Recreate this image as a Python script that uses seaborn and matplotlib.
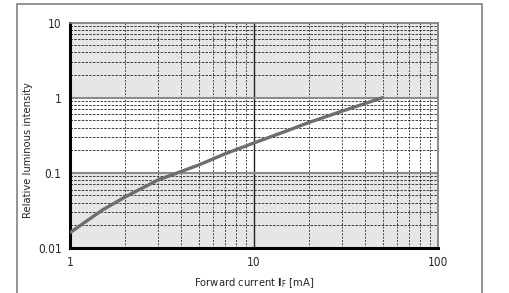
import numpy as np
import pandas as pd
import matplotlib
matplotlib.use("Agg")
import matplotlib.pyplot as plt
import seaborn as sns
from matplotlib.patches import Rectangle
from matplotlib.ticker import FixedLocator, NullFormatter

# forward current [mA] vs relative luminous intensity
current_ma = [1, 1.5, 2, 3, 5, 7, 10, 15, 20, 30, 50]
rel_intensity = [0.016, 0.032, 0.048, 0.080, 0.127, 0.18, 0.25, 0.36, 0.47, 0.66, 1.0]
x_ticks = [1, 10, 100]
x_ticklabels = ["1", "10", "100"]
y_ticks = [0.01, 0.1, 1, 10]
y_ticklabels = ["0.01", "0.1", "1", "10"]

sns.set_style("white")
plt.rcParams['font.family'] = ['DejaVu Sans']
plt.rcParams['font.stretch'] = 'condensed'

df = pd.DataFrame({"IF": current_ma, "IV": rel_intensity})

W, H = 510, 293
fig = plt.figure(figsize=(W / 100, H / 100), dpi=100)
ax = fig.add_axes([70 / W, 1 - 248 / H, (438 - 70) / W, (248 - 22.5) / H])

ax.set_xscale("log")
ax.set_yscale("log")
ax.set_xlim(1, 100)
ax.set_ylim(0.01, 10)

# shaded decades
ax.axhspan(0.01, 0.1, color="#e6e6e8", zorder=0, lw=0)
ax.axhspan(1, 10, color="#e6e6e8", zorder=0, lw=0)

# dashed minor grid
minors_x = [m * d for d in (1, 10) for m in range(2, 10)]
minors_y = [m * d for d in (0.01, 0.1, 1) for m in range(2, 10)]
for xv in minors_x:
    ax.axvline(xv, color="#222222", lw=0.6, ls=(0, (2.2, 1.8)), zorder=1)
for yv in minors_y:
    ax.axhline(yv, color="#222222", lw=0.6, ls=(0, (3, 1.5)), zorder=1)
# major lines
ax.axvline(10, color="#222222", lw=1.0, zorder=2)
ax.axhline(0.1, color="#8c8c8c", lw=1.5, zorder=2)
ax.axhline(1, color="#8c8c8c", lw=1.5, zorder=2)

sns.lineplot(data=df, x="IF", y="IV", color="#6e6e6e", lw=2.4, ax=ax, zorder=3)

ax.xaxis.set_major_locator(FixedLocator(x_ticks))
ax.set_xticklabels(x_ticklabels)
ax.yaxis.set_major_locator(FixedLocator(y_ticks))
ax.set_yticklabels(y_ticklabels)
ax.xaxis.set_minor_locator(FixedLocator([]))
ax.yaxis.set_minor_locator(FixedLocator([]))
ax.xaxis.set_minor_formatter(NullFormatter())
ax.yaxis.set_minor_formatter(NullFormatter())
ax.tick_params(axis="both", which="major", length=4, width=1, color="black",
               labelsize=8.5, pad=2, direction="out")

for side in ("left", "bottom"):
    ax.spines[side].set_color("black")
    ax.spines[side].set_linewidth(2.2)
for side in ("top", "right"):
    ax.spines[side].set_color("#777777")
    ax.spines[side].set_linewidth(1.2)

ax.set_xlabel(r"Forward current $\mathbf{I}_{\mathrm{F}}$ [mA]", fontsize=8, labelpad=5)
ax.set_ylabel("Relative luminous intensity", fontsize=8)
ax.yaxis.set_label_coords(-0.10, 0.435)

# outer frame, open at the bottom
fig.add_artist(Rectangle((17 / W, -0.1), (482 - 17) / W, 1.1 - 4 / H,
                         transform=fig.transFigure, fill=False,
                         edgecolor="#8a8a8a", lw=1.3))

fig.savefig("out.png", dpi=100)
